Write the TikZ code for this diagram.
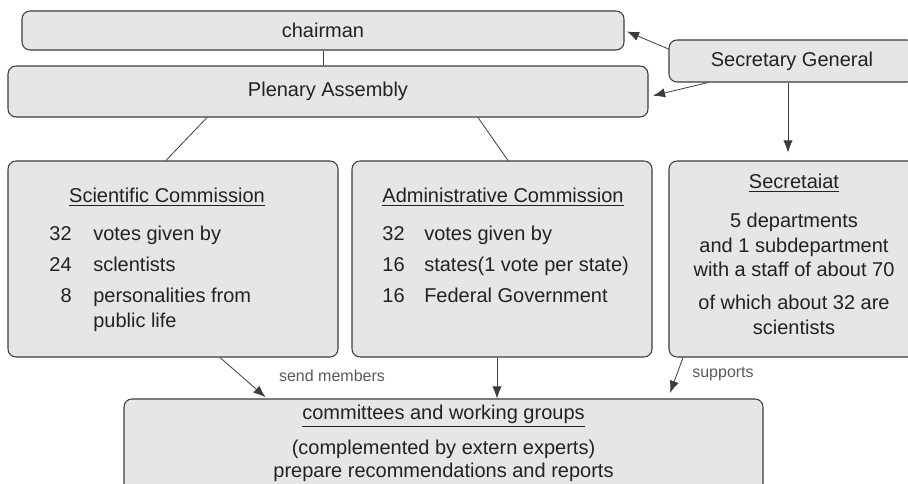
\documentclass[tikz,border=0pt]{standalone}
\usepackage{fontspec}
\setmainfont{Liberation Sans}
\usepackage{tikz}
\usetikzlibrary{arrows.meta}
\definecolor{boxfill}{RGB}{230,230,232}
\definecolor{boxline}{RGB}{60,60,60}
\definecolor{txtcol}{RGB}{34,34,34}
\tikzset{
  box/.style={draw=boxline, fill=boxfill, rounded corners=6pt, line width=0.8pt, inner sep=0pt, text=txtcol, font=\fontsize{15}{18}\selectfont},
  txt/.style={inner sep=0pt, text=txtcol, font=\fontsize{15}{18}\selectfont},
  lbl/.style={inner sep=0pt, text=black!65, font=\fontsize{12}{14}\selectfont},
  conn/.style={draw=boxline, line width=0.6pt},
  >={Latex[length=9pt,width=7pt]}
}
\begin{document}
\begin{tikzpicture}[x=0.75pt,y=-0.75pt]
\useasboundingbox (0,0) rectangle (908,484);
\clip (0,0) rectangle (908,484);

\node (chair) at (323,30.5) [box, minimum width=451.5pt, minimum height=29.25pt] {chairman};
\node (plen) at (328,91.5) [box, minimum width=480pt, minimum height=38.25pt] {Plenary Assembly};
\node (secgen) at (792,61) [box, minimum width=184.5pt, minimum height=31.5pt] {Secretary General};

\node (scicom) at (173,259) [box, minimum width=247.5pt, minimum height=147pt] {};
	\node (scititle) at (167,203) [txt, anchor=base] {\underline{Scientific Commission}};
	\node (sn1) at (72,241) [txt, anchor=base east] {32};
	\node (st1) at (93,241) [txt, anchor=base west] {votes given by};
	\node (sn2) at (72,272) [txt, anchor=base east] {24};
	\node (st2) at (93,272) [txt, anchor=base west] {sclentists};
	\node (sn3) at (72,303) [txt, anchor=base east] {8};
	\node (st3) at (93,303) [txt, anchor=base west] {personalities from};
	\node (st4) at (93,328) [txt, anchor=base west] {public life};

\node (admcom) at (502,259) [box, minimum width=225pt, minimum height=147pt] {};
	\node (admtitle) at (503,203) [txt, anchor=base] {\underline{Administrative Commission}};
	\node (an1) at (405,241) [txt, anchor=base east] {32};
	\node (at1) at (424,241) [txt, anchor=base west] {votes given by};
	\node (an2) at (405,272) [txt, anchor=base east] {16};
	\node (at2) at (424,272) [txt, anchor=base west] {states(1 vote per state)};
	\node (an3) at (405,303) [txt, anchor=base east] {16};
	\node (at3) at (424,303) [txt, anchor=base west] {Federal Government};

\node (secret) at (796,259) [box, minimum width=190.5pt, minimum height=147pt] {};
	\node (sectitle) at (794,189) [txt, anchor=base] {\underline{Secretaiat}};
	\node (sl1) at (794,228) [txt, anchor=base] {5 departments};
	\node (sl2) at (794,253) [txt, anchor=base] {and 1 subdepartment};
	\node (sl3) at (794,277) [txt, anchor=base] {with a staff of about 70};
	\node (sl4) at (794,310) [txt, anchor=base] {of which about 32 are};
	\node (sl5) at (794,335) [txt, anchor=base] {scientists};

\node (cwg) at (443.5,450) [box, minimum width=479.25pt, minimum height=76.5pt] {};
	\node (cwgtitle) at (443.5,420) [txt, anchor=base] {\underline{committees and working groups}};
	\node (cl1) at (443.5,455) [txt, anchor=base] {(complemented by extern experts)};
	\node (cl2) at (443.5,478) [txt, anchor=base] {prepare recommendations and reports};

\draw[conn] (chair.south) -- (chair.south |- plen.north);
\draw[conn,->,shorten >=2pt] ([yshift=9pt]secgen.west) -- (chair.east);
\draw[conn,->,shorten >=3.5pt] ([xshift=-63pt]secgen.south) -- ([yshift=-4pt]plen.east);
\draw[conn,->,shorten >=6pt] ([xshift=-3pt]secgen.south) -- ([xshift=-3pt]secgen.south |- secret.north);

\draw[conn] ([xshift=-90.75pt]plen.south) -- ([xshift=-5.25pt]scicom.north);
\draw[conn] ([xshift=112.5pt]plen.south) -- ([xshift=4.5pt]admcom.north);

\draw[conn,->,shorten >=1.5pt] ([xshift=35.25pt]scicom.south) -- ([xshift=-132.4pt]cwg.north);
\draw[conn,->] ([xshift=-3.75pt]admcom.south) -- ([xshift=-3.75pt]admcom.south |- cwg.north);
\draw[conn,->,shorten >=4.5pt] ([xshift=-84.75pt]secret.south) -- ([xshift=168.4pt]cwg.north);

\node (sendlbl) at (332,376) [lbl] {send members};
\node (suplbl) at (723,374) [lbl] {supports};

\end{tikzpicture}
\end{document}
